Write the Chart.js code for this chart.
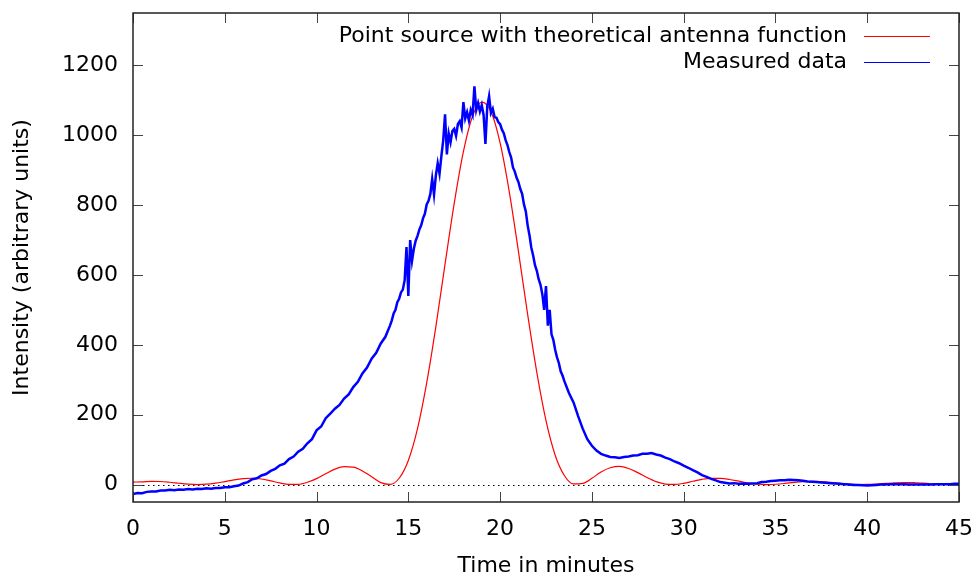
<!DOCTYPE html>
<html><head><meta charset="utf-8">
<script src="https://cdn.jsdelivr.net/npm/chart.js@4.4.1/dist/chart.umd.min.js"></script>
<style>html,body{margin:0;padding:0;background:#fff}canvas{display:block}</style>
</head><body>
<canvas id="c" width="976" height="577"></canvas>
<script>
const xTickValues = [0,5,10,15,20,25,30,35,40,45];
const yTickValues = [0,200,400,600,800,1000,1200];
const seriesNames = ['Point source with theoretical antenna function', 'Measured data'];
const xTitle = 'Time in minutes';
const yTitle = 'Intensity (arbitrary units)';

// Theoretical antenna response, sampled every 0.5 min from t = 0
const theoryStart = 0, theoryStep = 0.5;
const theoryIntensity = [
  7, 7.7, 9, 8.7, 6.6, 3.7, 1.2, 0, 0.9, 3.9,
  8.5, 13.4, 17, 18, 15.8, 10.5, 4.5, 0.6, 0.7, 6.4,
  17, 31, 44, 51, 50, 39, 22, 5.6, 0.4, 18,
  69, 160, 291, 452, 631, 805, 953, 1055, 1095, 1068,
  978, 838, 667, 487, 321, 183, 84, 26, 1.8, 3.3,
  18, 36, 48, 52, 46, 34, 20, 8.2, 1.3, 0.2,
  3.4, 9.3, 15, 17.9, 17.5, 14.4, 9.6, 4.7, 1.3, 0,
  0.8, 3.1, 6.1, 8.4, 9.1, 8.1, 6, 3.5, 1.2, 0.1,
  0.3, 1.5, 3.2, 4.8, 5.5, 5.2, 3.9, 2.3, 0.9, 0.1,
  0.1
];

// Measured data, part A: t = 0 .. 14 every 0.25 min
const measuredAStart = 0, measuredAStep = 0.25;
const measuredA = [
  -27,-24,-25,-21,-20,-20,-17,-17,-15,-16,
  -14,-15,-13,-14,-12,-13,-11,-12,-10,-10,
  -8,-8,-5,-3,3,7,15,18,26,30,
  39,45,55,60,73,80,94,102,118,130,
  155,166,190,203,217,228,246,258,279,294,
  318,335,360,377,404,423,455
];
// Measured data, part B: t = 14.1 .. 23.5 every 0.1 min
const measuredBStart = 14.1, measuredBStep = 0.1;
const measuredB = [
  470,490,500,522,532,550,558,585,680,              // 14.1-14.9
  540,700,640,675,698,712,730,742,762,775,           // 15.0-15.9
  802,812,832,875,830,885,920,890,940,985,           // 16.0-16.9
  1060,945,1005,980,1012,1018,998,1032,1040,1022,    // 17.0-17.9
  1095,1048,1066,1042,1072,1058,1140,1072,1092,1068, // 18.0-18.9
  1086,1058,975,1082,1112,1064,1076,1052,1050,1038,  // 19.0-19.9
  1032,1016,1006,986,972,952,936,908,896,878,        // 20.0-20.9
  866,846,832,802,782,742,714,678,656,628,           // 21.0-21.9
  612,588,572,545,500,568,455,500,430,414,           // 22.0-22.9
  386,364,348,324,312,296                            // 23.0-23.5
];
// Measured data, part C: t = 23.75 .. 45 every 0.25 min
const measuredCStart = 23.75, measuredCStep = 0.25;
const measuredC = [
  262,235,196,160,130,111,97,88,83,79,
  78,76,79,80,83,84,88,88,90,86,
  83,77,73,66,61,54,48,41,35,27,
  22,16,12,7,5,3,4,2,3,2,
  3,4,7,8,10,11,12,12,14,13,
  12,11,9,8,7,6,5,4,3,2,
  1,0,-1,-1,-2,-3,-2,-1,0,0,
  1,1,1,1,0,0,0,0,0,0,
  1,1,1,1,2,2
];

function toPoints(start, step, values) {
  return values.map((v, i) => ({ x: +(start + i * step).toFixed(3), y: v }));
}
const theoryPoints = toPoints(theoryStart, theoryStep, theoryIntensity);
const measuredPoints = [].concat(
  toPoints(measuredAStart, measuredAStep, measuredA),
  toPoints(measuredBStart, measuredBStep, measuredB),
  toPoints(measuredCStart, measuredCStep, measuredC)
);

const FONT = 'DejaVu Sans';
const font22 = { family: FONT, size: 22 };

const framePlugin = {
  id: 'frame',
  beforeDatasetsDraw(chart) {
    const { ctx, chartArea: a, scales: { y } } = chart;
    const y0 = Math.round(y.getPixelForValue(0)) + 0.5;
    ctx.save();
    ctx.strokeStyle = '#000';
    ctx.lineWidth = 1;
    ctx.setLineDash([1.5, 3.5]);
    ctx.beginPath();
    ctx.moveTo(a.left, y0);
    ctx.lineTo(a.right, y0);
    ctx.stroke();
    ctx.restore();
  },
  afterDatasetsDraw(chart) {
    const { ctx, chartArea: a, scales: { x, y } } = chart;
    ctx.save();
    ctx.strokeStyle = '#444';
    ctx.lineWidth = 1;
    const L = 10;
    ctx.beginPath();
    xTickValues.forEach(v => {
      const px = Math.round(x.getPixelForValue(v)) + 0.5;
      ctx.moveTo(px, a.bottom); ctx.lineTo(px, a.bottom - L);
      ctx.moveTo(px, a.top); ctx.lineTo(px, a.top + L);
    });
    yTickValues.forEach(v => {
      const py = Math.round(y.getPixelForValue(v)) + 0.5;
      ctx.moveTo(a.left, py); ctx.lineTo(a.left + L, py);
      ctx.moveTo(a.right, py); ctx.lineTo(a.right - L, py);
    });
    ctx.stroke();
    ctx.strokeStyle = '#222';
    ctx.lineWidth = 1.5;
    ctx.strokeRect(a.left, a.top, a.right - a.left, a.bottom - a.top);
    ctx.restore();
  },
  afterDraw(chart) {
    const { ctx, data } = chart;
    ctx.save();
    ctx.font = '22px "DejaVu Sans"';
    ctx.textAlign = 'right';
    ctx.textBaseline = 'middle';
    const rows = [36, 62];
    const order = [1, 0]; // theory first, then measured
    order.forEach((di, r) => {
      const ds = data.datasets[di];
      const yy = rows[r];
      ctx.fillStyle = '#000';
      ctx.fillText(ds.label, 847, yy);
      ctx.strokeStyle = ds.borderColor;
      ctx.lineWidth = 1;
      ctx.beginPath();
      ctx.moveTo(864, yy + 0.5);
      ctx.lineTo(930, yy + 0.5);
      ctx.stroke();
    });
    ctx.restore();
  }
};

function zeroPad(s) { s.paddingTop = 0; s.paddingBottom = 0; s.paddingLeft = 0; s.paddingRight = 0; }

new Chart(document.getElementById('c'), {
  type: 'line',
  data: {
    datasets: [
      {
        label: seriesNames[1],
        data: measuredPoints,
        borderColor: '#0000ff',
        borderWidth: 2.5,
        pointRadius: 0,
        tension: 0,
        order: 0
      },
      {
        label: seriesNames[0],
        data: theoryPoints,
        borderColor: '#ff0000',
        borderWidth: 1.2,
        pointRadius: 0,
        cubicInterpolationMode: 'monotone',
        order: 1
      }
    ]
  },
  options: {
    responsive: false,
    animation: false,
    devicePixelRatio: 1,
    layout: { autoPadding: false, padding: { left: 0, right: 17, top: 13, bottom: 0 } },
    plugins: { legend: { display: false }, tooltip: { enabled: false } },
    scales: {
      x: {
        type: 'linear', min: 0, max: 45,
        afterBuildTicks: s => { s.ticks = xTickValues.map(v => ({ value: v })); },
        afterFit: s => { s.height = 75; zeroPad(s); },
        grid: { display: false, drawTicks: false },
        border: { display: false },
        ticks: { font: font22, color: '#000', padding: 14, maxRotation: 0, autoSkip: false, callback: v => String(v) },
        title: { display: true, text: xTitle, font: { family: FONT, size: 22, lineHeight: 1 }, color: '#000', padding: { top: 0, bottom: 0 } }
      },
      y: {
        type: 'linear', min: -50, max: 1350,
        afterBuildTicks: s => { s.ticks = yTickValues.map(v => ({ value: v })); },
        afterFit: s => { s.width = 133; zeroPad(s); },
        grid: { display: false, drawTicks: false },
        border: { display: false },
        ticks: { font: font22, color: '#000', padding: 15, callback: v => String(v) },
        title: { display: true, text: yTitle, font: { family: FONT, size: 22, lineHeight: 1 }, color: '#000', padding: { top: 11, bottom: 0 } }
      }
    }
  },
  plugins: [framePlugin]
});
</script>
</body></html>
